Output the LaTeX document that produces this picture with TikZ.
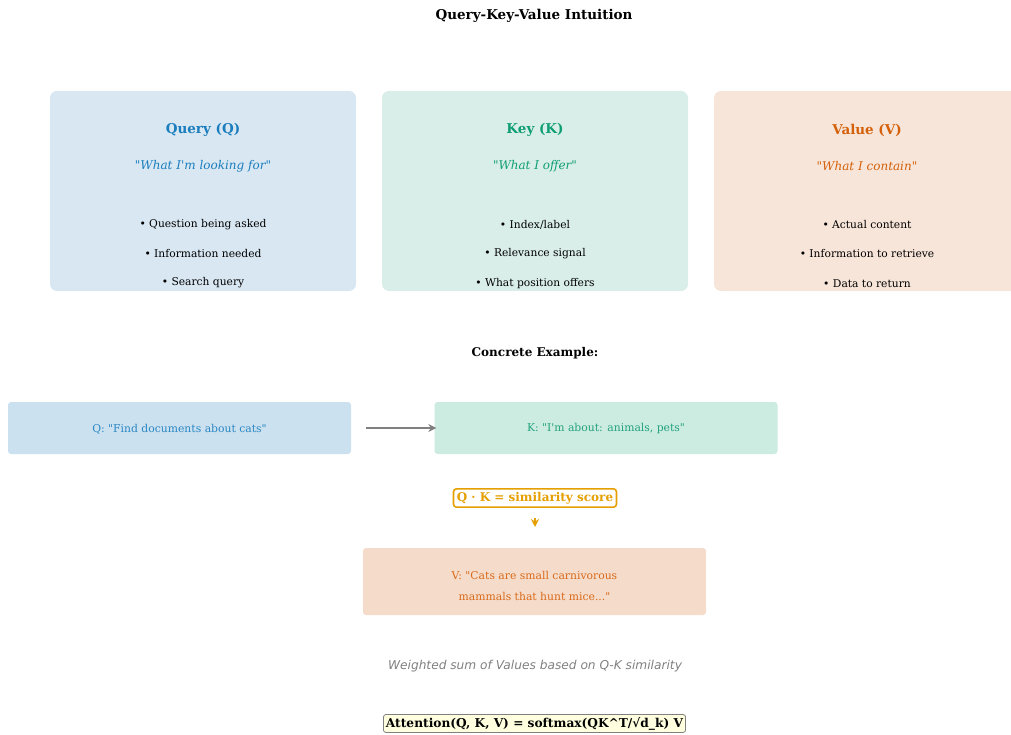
\documentclass[tikz,border=0pt]{standalone}
\usepackage{fontspec}
\setmainfont{DejaVu Serif}[Ligatures=TeXOff]
\newfontfamily\labelsans{DejaVu Sans}[Ligatures=TeXOff]
\usetikzlibrary{arrows.meta}

\definecolor{qfill}{HTML}{D8E7F2}
\definecolor{kfill}{HTML}{D9EEE8}
\definecolor{vfill}{HTML}{F7E5D9}
\definecolor{qdark}{HTML}{1A7DBD}
\definecolor{kdark}{HTML}{0E9E74}
\definecolor{vdark}{HTML}{D5600A}
\definecolor{qexfill}{HTML}{CCE1EF}
\definecolor{kexfill}{HTML}{CCEBE1}
\definecolor{vexfill}{HTML}{F5DCCA}
\definecolor{qextext}{HTML}{2A87C4}
\definecolor{kextext}{HTML}{22A37A}
\definecolor{vextext}{HTML}{D9691A}
\definecolor{scoreclr}{HTML}{E69F00}
\definecolor{formulafill}{HTML}{FFFFE0}
\definecolor{midgray}{HTML}{808080}

\tikzset{
  card/.style={rounded corners=7pt, minimum width=306pt, minimum height=200pt, inner sep=0pt},
  exbox/.style={rounded corners=3pt, minimum width=343pt, inner sep=0pt},
  cardtitle/.style={font=\fontsize{13.5}{16}\selectfont\bfseries},
  cardsub/.style={font=\fontsize{12}{14}\selectfont\itshape},
  bullet/.style={font=\fontsize{10.7}{13}\selectfont, text=black},
  extext/.style={font=\fontsize{10.8}{13}\selectfont},
}

\begin{document}
\begin{tikzpicture}[x=1pt, y=-1pt]
\useasboundingbox (0,0) rectangle (1011,735);
\clip (0,0) rectangle (1011,735);

% heading
\node[font=\fontsize{13.5}{16}\selectfont\bfseries] (title) at (534,16) {Query-Key-Value Intuition};

% three concept cards
\node[card, fill=qfill] (qcard) at (203,191) {};
\node[card, fill=kfill] (kcard) at (535,191) {};
\node[card, fill=vfill] (vcard) at (867,191) {};

\node[cardtitle, text=qdark] (qtitle) at (203,130) {Query (Q)};
\node[cardsub, text=qdark] (qsub) at (203,166) {"What I'm looking for"};
\node[bullet] (qb1) at (203,225) {• Question being asked};
\node[bullet] (qb2) at (203,254) {• Information needed};
\node[bullet] (qb3) at (203,283) {• Search query};

\node[cardtitle, text=kdark] (ktitle) at (535,130) {Key (K)};
\node[cardsub, text=kdark] (ksub) at (535,166) {"What I offer"};
\node[bullet] (kb1) at (535,225) {• Index/label};
\node[bullet] (kb2) at (535,254) {• Relevance signal};
\node[bullet] (kb3) at (535,284) {• What position offers};

\node[cardtitle, text=vdark] (vtitle) at (867,130) {Value (V)};
\node[cardsub, text=vdark] (vsub) at (867,166) {"What I contain"};
\node[bullet] (vb1) at (867,225) {• Actual content};
\node[bullet] (vb2) at (867,254) {• Information to retrieve};
\node[bullet] (vb3) at (867,284) {• Data to return};

% worked example
\node[font=\fontsize{12}{14}\selectfont\bfseries] (extitle) at (535,353) {Concrete Example:};

\node[exbox, fill=qexfill, minimum height=52pt] (qex) at (179.5,428) {};
\node[extext, text=qextext] (qextxt) at (179.5,429) {Q: "Find documents about cats"};
\node[exbox, fill=kexfill, minimum height=52pt] (kex) at (606,428) {};
\node[extext, text=kextext] (kextxt) at (606,429) {K: "I'm about: animals, pets"};
\draw[line width=2.8pt, draw=midgray, -{Stealth[length=8pt, width=8pt]}] ([xshift=15pt]qex.east) -- ([xshift=2pt]kex.west);

\node[draw=scoreclr, line width=1.6pt, rounded corners=3pt, fill=white, text=scoreclr,
      font=\fontsize{12}{14}\selectfont\bfseries, inner sep=3.3pt] (score) at (535,498) {Q · K = similarity score};

\node[exbox, fill=vexfill, minimum height=67pt] (vex) at (534.5,581.5) {};
\node[extext, text=vextext, align=center] (vextxt) at (534.5,585.5)
  {V: "Cats are small carnivorous\\[8pt]mammals that hunt mice..."};

\coordinate (tipstart) at (535,518);
\coordinate (tipend) at (535,527);
\draw[line width=1.5pt, draw=scoreclr, -{Stealth[length=8pt, width=8pt]}] (tipstart) -- (tipend);

\node[font=\labelsans\fontsize{12.2}{14}\selectfont\itshape, text=midgray] (wsum) at (535,666) {Weighted sum of Values based on Q-K similarity};

\node[draw=midgray, line width=0.8pt, rounded corners=2.5pt, fill=formulafill,
      font=\fontsize{12.2}{14}\selectfont\bfseries, inner sep=2.5pt] (formula) at (534.5,723.5) {Attention(Q, K, V) = softmax(QK\^{}T/√d\_k) V};
\end{tikzpicture}
\end{document}
